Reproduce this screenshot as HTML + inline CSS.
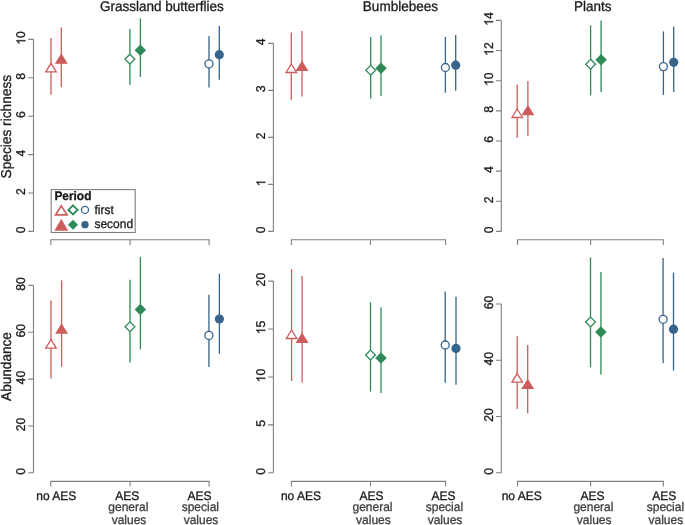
<!DOCTYPE html><html><head><meta charset="utf-8"><style>html,body{margin:0;padding:0;background:#fff;}svg{display:block;will-change:transform;}text{font-family:"Liberation Sans",sans-serif;text-rendering:geometricPrecision;stroke-width:0.3px;}</style></head><body>
<svg width="685" height="525" viewBox="0 0 685 525">
<rect width="685" height="525" fill="#fff"/>
<g font-size="13.5" fill="#1a1a1a" stroke="#1a1a1a" text-anchor="middle">
<text transform="translate(161.9,10.8) scale(1,1.04)">Grassland butterflies</text>
<text transform="translate(400.4,10.9) scale(1,1.04)">Bumblebees</text>
<text transform="translate(592.8,10.8) scale(1,1.04)">Plants</text>
</g>
<g font-size="13.7" fill="#1a1a1a" stroke="#1a1a1a" text-anchor="middle">
<text transform="translate(10.7,126.65) rotate(-90) scale(1,1.04)">Species richness</text>
<text font-size="13.6" transform="translate(10.6,366.5) rotate(-90) scale(1,1.04)">Abundance</text>
</g>
<path d="M33.5 39.4V231.4M33.5 231.4H28.2M33.5 193H28.2M33.5 154.6H28.2M33.5 116.2H28.2M33.5 77.8H28.2M33.5 39.4H28.2" stroke="#7f7f7f" stroke-width="1.1" fill="none"/>
<g font-size="12.2" fill="#1a1a1a" stroke="#1a1a1a" text-anchor="middle">
<text transform="translate(25.4,229.9) rotate(-90) scale(1,1.04)">0</text>
<text transform="translate(25.4,191.5) rotate(-90) scale(1,1.04)">2</text>
<text transform="translate(25.4,153.1) rotate(-90) scale(1,1.04)">4</text>
<text transform="translate(25.4,114.7) rotate(-90) scale(1,1.04)">6</text>
<text transform="translate(25.4,76.3) rotate(-90) scale(1,1.04)">8</text>
<g transform="translate(25.4,37.9) rotate(-90) scale(1,1.04)"><path d="M-2.24 0 L-3.31 0 L-3.31 -6.83 L-5.49 -5.49 L-5.49 -6.53 L-4.28 -7.27 L-3.27 -8.22 L-2.94 -8.73 L-2.24 -8.73Z" stroke-width="0.3"/><text x="0" text-anchor="start">0</text></g>
</g>
<path d="M273.4 43.4V231.4M273.4 231.4H268.1M273.4 184.4H268.1M273.4 137.4H268.1M273.4 90.4H268.1M273.4 43.4H268.1" stroke="#7f7f7f" stroke-width="1.1" fill="none"/>
<g font-size="12.2" fill="#1a1a1a" stroke="#1a1a1a" text-anchor="middle">
<text transform="translate(265.3,229.9) rotate(-90) scale(1,1.04)">0</text>
<g transform="translate(265.3,182.9) rotate(-90) scale(1,1.04)"><path d="M1.15 0 L0.08 0 L0.08 -6.83 L-2.1 -5.49 L-2.1 -6.53 L-0.89 -7.27 L0.12 -8.22 L0.46 -8.73 L1.15 -8.73Z" stroke-width="0.3"/></g>
<text transform="translate(265.3,135.9) rotate(-90) scale(1,1.04)">2</text>
<text transform="translate(265.3,88.9) rotate(-90) scale(1,1.04)">3</text>
<text transform="translate(265.3,41.9) rotate(-90) scale(1,1.04)">4</text>
</g>
<path d="M501.3 20.42V231.4M501.3 231.4H496M501.3 201.26H496M501.3 171.12H496M501.3 140.98H496M501.3 110.84H496M501.3 80.7H496M501.3 50.56H496M501.3 20.42H496" stroke="#7f7f7f" stroke-width="1.1" fill="none"/>
<g font-size="12.2" fill="#1a1a1a" stroke="#1a1a1a" text-anchor="middle">
<text transform="translate(493.2,229.9) rotate(-90) scale(1,1.04)">0</text>
<text transform="translate(493.2,199.76) rotate(-90) scale(1,1.04)">2</text>
<text transform="translate(493.2,169.62) rotate(-90) scale(1,1.04)">4</text>
<text transform="translate(493.2,139.48) rotate(-90) scale(1,1.04)">6</text>
<text transform="translate(493.2,109.34) rotate(-90) scale(1,1.04)">8</text>
<g transform="translate(493.2,79.2) rotate(-90) scale(1,1.04)"><path d="M-2.24 0 L-3.31 0 L-3.31 -6.83 L-5.49 -5.49 L-5.49 -6.53 L-4.28 -7.27 L-3.27 -8.22 L-2.94 -8.73 L-2.24 -8.73Z" stroke-width="0.3"/><text x="0" text-anchor="start">0</text></g>
<g transform="translate(493.2,49.06) rotate(-90) scale(1,1.04)"><path d="M-2.24 0 L-3.31 0 L-3.31 -6.83 L-5.49 -5.49 L-5.49 -6.53 L-4.28 -7.27 L-3.27 -8.22 L-2.94 -8.73 L-2.24 -8.73Z" stroke-width="0.3"/><text x="0" text-anchor="start">2</text></g>
<g transform="translate(493.2,18.92) rotate(-90) scale(1,1.04)"><path d="M-2.24 0 L-3.31 0 L-3.31 -6.83 L-5.49 -5.49 L-5.49 -6.53 L-4.28 -7.27 L-3.27 -8.22 L-2.94 -8.73 L-2.24 -8.73Z" stroke-width="0.3"/><text x="0" text-anchor="start">4</text></g>
</g>
<path d="M33.5 285.4V472.8M33.5 472.8H28.2M33.5 425.95H28.2M33.5 379.1H28.2M33.5 332.25H28.2M33.5 285.4H28.2" stroke="#7f7f7f" stroke-width="1.1" fill="none"/>
<g font-size="12.2" fill="#1a1a1a" stroke="#1a1a1a" text-anchor="middle">
<text transform="translate(25.4,471.3) rotate(-90) scale(1,1.04)">0</text>
<text transform="translate(25.4,424.45) rotate(-90) scale(1,1.04)">20</text>
<text transform="translate(25.4,377.6) rotate(-90) scale(1,1.04)">40</text>
<text transform="translate(25.4,330.75) rotate(-90) scale(1,1.04)">60</text>
<text transform="translate(25.4,283.9) rotate(-90) scale(1,1.04)">80</text>
</g>
<path d="M273.4 281.1V472.8M273.4 472.8H268.1M273.4 424.88H268.1M273.4 376.95H268.1M273.4 329.02H268.1M273.4 281.1H268.1" stroke="#7f7f7f" stroke-width="1.1" fill="none"/>
<g font-size="12.2" fill="#1a1a1a" stroke="#1a1a1a" text-anchor="middle">
<text transform="translate(265.3,471.3) rotate(-90) scale(1,1.04)">0</text>
<text transform="translate(265.3,423.38) rotate(-90) scale(1,1.04)">5</text>
<g transform="translate(265.3,375.45) rotate(-90) scale(1,1.04)"><path d="M-2.24 0 L-3.31 0 L-3.31 -6.83 L-5.49 -5.49 L-5.49 -6.53 L-4.28 -7.27 L-3.27 -8.22 L-2.94 -8.73 L-2.24 -8.73Z" stroke-width="0.3"/><text x="0" text-anchor="start">0</text></g>
<g transform="translate(265.3,327.52) rotate(-90) scale(1,1.04)"><path d="M-2.24 0 L-3.31 0 L-3.31 -6.83 L-5.49 -5.49 L-5.49 -6.53 L-4.28 -7.27 L-3.27 -8.22 L-2.94 -8.73 L-2.24 -8.73Z" stroke-width="0.3"/><text x="0" text-anchor="start">5</text></g>
<text transform="translate(265.3,279.6) rotate(-90) scale(1,1.04)">20</text>
</g>
<path d="M501.3 304V472.8M501.3 472.8H496M501.3 416.53H496M501.3 360.27H496M501.3 304H496" stroke="#7f7f7f" stroke-width="1.1" fill="none"/>
<g font-size="12.2" fill="#1a1a1a" stroke="#1a1a1a" text-anchor="middle">
<text transform="translate(493.2,471.3) rotate(-90) scale(1,1.04)">0</text>
<text transform="translate(493.2,415.03) rotate(-90) scale(1,1.04)">20</text>
<text transform="translate(493.2,358.77) rotate(-90) scale(1,1.04)">40</text>
<text transform="translate(493.2,302.5) rotate(-90) scale(1,1.04)">60</text>
</g>
<path d="M50.8 245V239.8H209.1V245M130.1 239.8V245" stroke="#7f7f7f" stroke-width="1.1" fill="none"/>
<path d="M291.4 245V239.8H445.6V245M370.5 239.8V245" stroke="#7f7f7f" stroke-width="1.1" fill="none"/>
<path d="M517.5 245V239.8H663.3V245M590.6 239.8V245" stroke="#7f7f7f" stroke-width="1.1" fill="none"/>
<path d="M50.8 486.6V481.4H209.1V486.6M130.1 481.4V486.6" stroke="#7f7f7f" stroke-width="1.1" fill="none"/>
<path d="M291.4 486.6V481.4H445.6V486.6M370.5 481.4V486.6" stroke="#7f7f7f" stroke-width="1.1" fill="none"/>
<path d="M517.5 486.6V481.4H663.3V486.6M590.6 481.4V486.6" stroke="#7f7f7f" stroke-width="1.1" fill="none"/>
<g font-size="12" fill="#1a1a1a" stroke="#1a1a1a" text-anchor="middle">
<text transform="translate(56.25,499.5) scale(1,1.04)">no AES</text>
<text transform="translate(300.9,499.5) scale(1,1.04)">no AES</text>
<text transform="translate(521.7,499.5) scale(1,1.04)">no AES</text>
<text transform="translate(127.3,499.5) scale(1,1.04)">AES</text>
<text transform="translate(199.4,499.5) scale(1,1.04)">AES</text>
<text transform="translate(371.6,499.5) scale(1,1.04)">AES</text>
<text transform="translate(443.4,499.5) scale(1,1.04)">AES</text>
<text transform="translate(592.5,499.5) scale(1,1.04)">AES</text>
<text transform="translate(664.2,499.5) scale(1,1.04)">AES</text>
</g>
<g font-size="12" fill="#404040" stroke="#404040" text-anchor="middle">
<text transform="translate(128.3,510.9) scale(1,1.04)">general</text>
<text transform="translate(200.3,510.9) scale(1,1.04)">special</text>
<text transform="translate(372.5,510.9) scale(1,1.04)">general</text>
<text transform="translate(444.4,510.9) scale(1,1.04)">special</text>
<text transform="translate(593.4,510.9) scale(1,1.04)">general</text>
<text transform="translate(665.4,510.9) scale(1,1.04)">special</text>
<text transform="translate(129,523.7) scale(1,1.04)">values</text>
<text transform="translate(201,523.7) scale(1,1.04)">values</text>
<text transform="translate(373.4,523.7) scale(1,1.04)">values</text>
<text transform="translate(445,523.7) scale(1,1.04)">values</text>
<text transform="translate(594.2,523.7) scale(1,1.04)">values</text>
<text transform="translate(665.8,523.7) scale(1,1.04)">values</text>
</g>
<line x1="51" y1="38" x2="51" y2="94.7" stroke="#CD5C5C" stroke-width="1.3"/>
<line x1="61.3" y1="27.6" x2="61.3" y2="87" stroke="#CD5C5C" stroke-width="1.3"/>
<line x1="129.9" y1="29" x2="129.9" y2="85" stroke="#2E8B57" stroke-width="1.3"/>
<line x1="140.4" y1="18.4" x2="140.4" y2="77" stroke="#2E8B57" stroke-width="1.3"/>
<line x1="209" y1="36" x2="209" y2="87.4" stroke="#36648B" stroke-width="1.3"/>
<line x1="219.3" y1="26.1" x2="219.3" y2="79.7" stroke="#36648B" stroke-width="1.3"/>
<polygon points="51,63.3 56.3,71.8 45.7,71.8" fill="#fff" stroke="#CD5C5C" stroke-width="1.3" stroke-linejoin="miter"/>
<polygon points="61.3,54.7 66.6,63.2 56,63.2" fill="#CD5C5C" stroke="#CD5C5C" stroke-width="1.3"/>
<polygon points="129.9,54.2 134.8,59.1 129.9,64 125,59.1" fill="#fff" stroke="#2E8B57" stroke-width="1.3"/>
<polygon points="140.4,44.45 146.15,50.2 140.4,55.95 134.65,50.2" fill="#2E8B57"/>
<circle cx="209" cy="63.9" r="4.0" fill="#fff" stroke="#36648B" stroke-width="1.3"/>
<circle cx="219.3" cy="54.7" r="4.6" fill="#36648B"/>
<line x1="291.3" y1="32.6" x2="291.3" y2="99.7" stroke="#CD5C5C" stroke-width="1.3"/>
<line x1="302" y1="31.1" x2="302" y2="96.6" stroke="#CD5C5C" stroke-width="1.3"/>
<line x1="370.7" y1="36.9" x2="370.7" y2="98.4" stroke="#2E8B57" stroke-width="1.3"/>
<line x1="381" y1="35.2" x2="381" y2="95.9" stroke="#2E8B57" stroke-width="1.3"/>
<line x1="445.4" y1="36.9" x2="445.4" y2="92.8" stroke="#36648B" stroke-width="1.3"/>
<line x1="455.7" y1="34.9" x2="455.7" y2="90.8" stroke="#36648B" stroke-width="1.3"/>
<polygon points="291.3,64 296.6,72.5 286,72.5" fill="#fff" stroke="#CD5C5C" stroke-width="1.3" stroke-linejoin="miter"/>
<polygon points="302,61.75 307.3,70.25 296.7,70.25" fill="#CD5C5C" stroke="#CD5C5C" stroke-width="1.3"/>
<polygon points="370.7,65.4 375.6,70.3 370.7,75.2 365.8,70.3" fill="#fff" stroke="#2E8B57" stroke-width="1.3"/>
<polygon points="381,62.45 386.75,68.2 381,73.95 375.25,68.2" fill="#2E8B57"/>
<circle cx="445.4" cy="67.5" r="4.0" fill="#fff" stroke="#36648B" stroke-width="1.3"/>
<circle cx="455.7" cy="65.2" r="4.6" fill="#36648B"/>
<line x1="517.2" y1="84.5" x2="517.2" y2="137.8" stroke="#CD5C5C" stroke-width="1.3"/>
<line x1="527.9" y1="81" x2="527.9" y2="135.8" stroke="#CD5C5C" stroke-width="1.3"/>
<line x1="590.6" y1="25.4" x2="590.6" y2="95.4" stroke="#2E8B57" stroke-width="1.3"/>
<line x1="601.1" y1="20.6" x2="601.1" y2="91.9" stroke="#2E8B57" stroke-width="1.3"/>
<line x1="663.4" y1="31.4" x2="663.4" y2="94.9" stroke="#36648B" stroke-width="1.3"/>
<line x1="673.7" y1="26.8" x2="673.7" y2="92" stroke="#36648B" stroke-width="1.3"/>
<polygon points="517.2,109 522.5,117.5 511.9,117.5" fill="#fff" stroke="#CD5C5C" stroke-width="1.3" stroke-linejoin="miter"/>
<polygon points="527.9,106.2 533.2,114.7 522.6,114.7" fill="#CD5C5C" stroke="#CD5C5C" stroke-width="1.3"/>
<polygon points="590.6,59.3 595.5,64.2 590.6,69.1 585.7,64.2" fill="#fff" stroke="#2E8B57" stroke-width="1.3"/>
<polygon points="601.1,53.95 606.85,59.7 601.1,65.45 595.35,59.7" fill="#2E8B57"/>
<circle cx="663.4" cy="66.6" r="4.0" fill="#fff" stroke="#36648B" stroke-width="1.3"/>
<circle cx="673.7" cy="62.3" r="4.6" fill="#36648B"/>
<line x1="51" y1="300.4" x2="51" y2="378.6" stroke="#CD5C5C" stroke-width="1.3"/>
<line x1="61.6" y1="280.3" x2="61.6" y2="366.7" stroke="#CD5C5C" stroke-width="1.3"/>
<line x1="130" y1="279.7" x2="130" y2="362.5" stroke="#2E8B57" stroke-width="1.3"/>
<line x1="140.4" y1="256.9" x2="140.4" y2="349.4" stroke="#2E8B57" stroke-width="1.3"/>
<line x1="208.9" y1="294.7" x2="208.9" y2="367" stroke="#36648B" stroke-width="1.3"/>
<line x1="219.4" y1="273.7" x2="219.4" y2="353.7" stroke="#36648B" stroke-width="1.3"/>
<polygon points="51,339.7 56.3,348.2 45.7,348.2" fill="#fff" stroke="#CD5C5C" stroke-width="1.3" stroke-linejoin="miter"/>
<polygon points="61.6,324.5 66.9,333 56.3,333" fill="#CD5C5C" stroke="#CD5C5C" stroke-width="1.3"/>
<polygon points="130,321.9 134.9,326.8 130,331.7 125.1,326.8" fill="#fff" stroke="#2E8B57" stroke-width="1.3"/>
<polygon points="140.4,303.65 146.15,309.4 140.4,315.15 134.65,309.4" fill="#2E8B57"/>
<circle cx="208.9" cy="335.4" r="4.0" fill="#fff" stroke="#36648B" stroke-width="1.3"/>
<circle cx="219.4" cy="319" r="4.6" fill="#36648B"/>
<line x1="291.6" y1="269.2" x2="291.6" y2="380.9" stroke="#CD5C5C" stroke-width="1.3"/>
<line x1="302.1" y1="276.1" x2="302.1" y2="382.6" stroke="#CD5C5C" stroke-width="1.3"/>
<line x1="370.5" y1="302.2" x2="370.5" y2="391.6" stroke="#2E8B57" stroke-width="1.3"/>
<line x1="381" y1="307.2" x2="381" y2="393.1" stroke="#2E8B57" stroke-width="1.3"/>
<line x1="445.2" y1="291.5" x2="445.2" y2="382.7" stroke="#36648B" stroke-width="1.3"/>
<line x1="456" y1="296.8" x2="456" y2="384.8" stroke="#36648B" stroke-width="1.3"/>
<polygon points="291.6,330 296.9,338.5 286.3,338.5" fill="#fff" stroke="#CD5C5C" stroke-width="1.3" stroke-linejoin="miter"/>
<polygon points="302.1,333.75 307.4,342.25 296.8,342.25" fill="#CD5C5C" stroke="#CD5C5C" stroke-width="1.3"/>
<polygon points="370.5,350.1 375.4,355 370.5,359.9 365.6,355" fill="#fff" stroke="#2E8B57" stroke-width="1.3"/>
<polygon points="381,352.35 386.75,358.1 381,363.85 375.25,358.1" fill="#2E8B57"/>
<circle cx="445.2" cy="345" r="4.0" fill="#fff" stroke="#36648B" stroke-width="1.3"/>
<circle cx="456" cy="348.4" r="4.6" fill="#36648B"/>
<line x1="517.2" y1="336.3" x2="517.2" y2="409" stroke="#CD5C5C" stroke-width="1.3"/>
<line x1="527.7" y1="345.1" x2="527.7" y2="413.2" stroke="#CD5C5C" stroke-width="1.3"/>
<line x1="590.5" y1="257.5" x2="590.5" y2="367.3" stroke="#2E8B57" stroke-width="1.3"/>
<line x1="600.9" y1="271.9" x2="600.9" y2="374.5" stroke="#2E8B57" stroke-width="1.3"/>
<line x1="663.1" y1="258" x2="663.1" y2="363.3" stroke="#36648B" stroke-width="1.3"/>
<line x1="673.5" y1="272.7" x2="673.5" y2="370.5" stroke="#36648B" stroke-width="1.3"/>
<polygon points="517.2,373.6 522.5,382.1 511.9,382.1" fill="#fff" stroke="#CD5C5C" stroke-width="1.3" stroke-linejoin="miter"/>
<polygon points="527.7,379.9 533,388.4 522.4,388.4" fill="#CD5C5C" stroke="#CD5C5C" stroke-width="1.3"/>
<polygon points="590.5,317.1 595.4,322 590.5,326.9 585.6,322" fill="#fff" stroke="#2E8B57" stroke-width="1.3"/>
<polygon points="600.9,326.15 606.65,331.9 600.9,337.65 595.15,331.9" fill="#2E8B57"/>
<circle cx="663.1" cy="319.3" r="4.0" fill="#fff" stroke="#36648B" stroke-width="1.3"/>
<circle cx="673.5" cy="329.2" r="4.6" fill="#36648B"/>
<rect x="51.2" y="189.6" width="84" height="42.9" fill="#fff" stroke="#7f7f7f" stroke-width="1.1"/>
<text font-size="11.9" font-weight="bold" fill="#1a1a1a" stroke="#1a1a1a" transform="translate(54.4,200.2) scale(1,1.04)">Period</text>
<polygon points="61.3,205.9 67.0,214.8 55.6,214.8" fill="#fff" stroke="#CD5C5C" stroke-width="1.7"/>
<polygon points="73,205.3 77.6,209.9 73,214.5 68.4,209.9" fill="#fff" stroke="#2E8B57" stroke-width="1.9"/>
<circle cx="85" cy="209.9" r="3.5" fill="#fff" stroke="#36648B" stroke-width="1.3"/>
<polygon points="61.3,218.7 68.2,230.8 54.4,230.8" fill="#CD5C5C"/>
<polygon points="73,219.7 78,224.7 73,229.7 68,224.7" fill="#2E8B57"/>
<circle cx="85" cy="224.7" r="3.65" fill="#36648B"/>
<g font-size="12" fill="#1a1a1a" stroke="#1a1a1a">
<text transform="translate(94.4,214.3) scale(1,1.04)">first</text>
<text transform="translate(94.4,227.9) scale(1,1.04)">second</text>
</g>
</svg></body></html>
